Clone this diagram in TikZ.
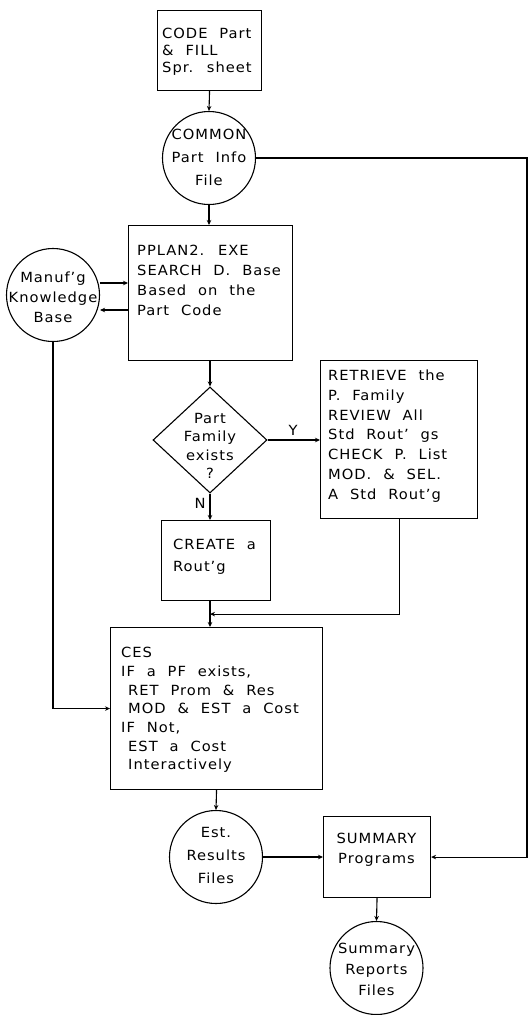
\documentclass[tikz,border=0pt]{standalone}
\usepackage{fontspec}
\setmainfont{DejaVu Sans}[FakeStretch=1.05,LetterSpace=7,WordSpace=2.1]
\usetikzlibrary{shapes.geometric,arrows.meta,calc}
\begin{document}
\begin{tikzpicture}[x=1pt,y=-1pt,
  outl/.style={draw, line width=1.1pt, inner sep=0pt},
  box/.style={outl, rectangle, anchor=north west},
  file/.style={outl, circle, minimum size=93pt},
  txt/.style={inner sep=0pt, align=left, anchor=north west, font=\fontsize{14}{20}\selectfont},
  ctxt/.style={inner sep=0pt, align=center, font=\fontsize{14}{20}\selectfont},
  arr/.style={line width=1.1pt, -{Stealth[length=5pt,width=4.5pt]}},
  ln/.style={line width=1.1pt}]
\useasboundingbox (0,0) rectangle (529,1015);

% shapes
\node[box, minimum width=104pt, minimum height=80pt] (codeBox) at (157,10) {};
\node[file] (commonC) at (209,158) {};
\node[file] (manufC) at (53,295) {};
\node[box, minimum width=164pt, minimum height=135pt] (pplanBox) at (128,225) {};
\node[outl, diamond, minimum width=114pt, minimum height=106pt] (dec) at (210,440) {};
\node[box, minimum width=157pt, minimum height=158pt] (retrBox) at (320,360) {};
\node[box, minimum width=109pt, minimum height=80pt] (createBox) at (161,520) {};
\node[box, minimum width=212pt, minimum height=162pt] (cesBox) at (110,627) {};
\node[file] (estC) at (216,857) {};
\node[box, minimum width=107pt, minimum height=81pt] (sumBox) at (323,816) {};
\node[file] (repC) at (376.5,968) {};

% texts
\node[txt, font=\fontsize{14}{17}\selectfont] (codeT) at (162,28) {CODE Part\\\& FILL\\Spr. sheet};
\node[ctxt, font=\fontsize{14}{23}\selectfont] (commonT) at (209,157) {COMMON\\Part Info\\File};
\node[ctxt] (manufT) at (53,297) {Manuf'g\\Knowledge\\Base};
\node[txt] (pplanT) at (137,245) {PPLAN2. EXE\\SEARCH D. Base\\Based on the\\Part Code};
\node[ctxt, font=\fontsize{14}{18.3}\selectfont] (decT) at (210,446) {Part\\Family\\exists\\?};
\node[txt, font=\fontsize{14}{19.7}\selectfont] (retrT) at (328,370) {RETRIEVE the\\P. Family\\REVIEW All\\Std Rout' gs\\CHECK P. List\\MOD. \& SEL.\\A Std Rout'g};
\node[txt, font=\fontsize{14}{22}\selectfont] (createT) at (173,539) {CREATE a\\Rout'g};
\node[txt, font=\fontsize{14}{18.7}\selectfont] (cesT) at (121,647) {CES\\IF a PF exists,\\\hspace*{7pt}RET Prom \& Res\\\hspace*{7pt}MOD \& EST a Cost\\IF Not,\\\hspace*{7pt}EST a Cost\\\hspace*{7pt}Interactively};
\node[ctxt, font=\fontsize{14}{23}\selectfont] (estT) at (216,855) {Est.\\Results\\Files};
\node[ctxt] (sumT) at (376.5,850) {SUMMARY\\Programs};
\node[ctxt, font=\fontsize{14}{21}\selectfont] (repT) at (376.5,969) {Summary\\Reports\\Files};
\node[inner sep=0pt, font=\fontsize{14}{20}\selectfont] (yLbl) at (293,430) {Y};
\node[inner sep=0pt, font=\fontsize{14}{20}\selectfont] (nLbl) at (200,503) {N};

% connectors
\draw[arr] (codeBox.south) -- (commonC.north);
\draw[arr] (commonC.south) -- (commonC.south |- pplanBox.north);
\coordinate (m1) at ([yshift=12pt]manufC.east);
\coordinate (m2) at ([yshift=-15pt]manufC.east);
\draw[arr] (m1) -- (m1 -| pplanBox.west);
\draw[arr] (m2 -| pplanBox.west) -- (m2);
\draw[arr] (pplanBox.south -| dec.north) -- (dec.north);
\draw[arr] (dec.east) -- (dec.east -| retrBox.west);
\draw[arr] (dec.south) -- (dec.south |- createBox.north);
\coordinate (c1) at (createBox.south -| dec.south);
\coordinate (j) at ($(c1)+(0,13)$);
\draw[arr] (retrBox.south) |- (j);
\draw[arr] (c1) -- (j) -- (j |- cesBox.north);
\draw[arr] (manufC.south) |- (cesBox.west);
\draw[arr] (cesBox.south) -- (estC.north);
\draw[arr] (estC.east) -- (estC.east -| sumBox.west);
\draw[arr] (sumBox.south) -- (repC.north);
\coordinate (rc) at (527,500);
\draw[arr] (commonC.east) -| (rc) |- (sumBox.east);
\end{tikzpicture}
\end{document}
